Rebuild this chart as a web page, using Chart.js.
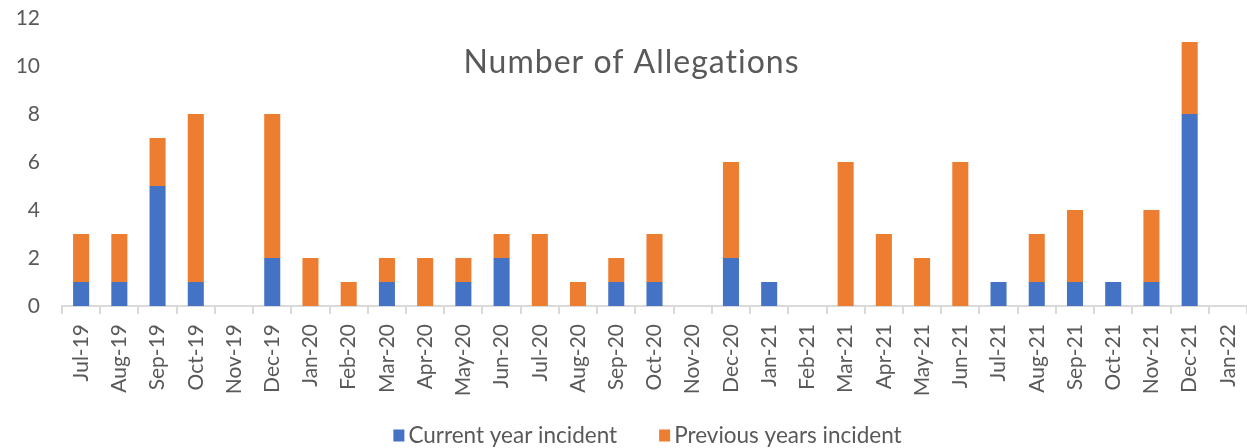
<!DOCTYPE html>
<html>
<head>
<meta charset="utf-8">
<script src="https://cdn.jsdelivr.net/npm/chart.js@4"></script>
<style>
  html, body { margin: 0; padding: 0; background: #fff; }
  #wrap { width: 1247px; height: 448px; }
</style>
</head>
<body>
<div id="wrap"><canvas id="allegationsChart"></canvas></div>
<script>
const months = ["Jul-19", "Aug-19", "Sep-19", "Oct-19", "Nov-19", "Dec-19", "Jan-20", "Feb-20", "Mar-20", "Apr-20",
  "May-20", "Jun-20", "Jul-20", "Aug-20", "Sep-20", "Oct-20", "Nov-20", "Dec-20", "Jan-21", "Feb-21",
  "Mar-21", "Apr-21", "May-21", "Jun-21", "Jul-21", "Aug-21", "Sep-21", "Oct-21", "Nov-21", "Dec-21", "Jan-22"];
const currentYear = [1, 1, 5, 1, 0, 2, 0, 0, 1, 0, 1, 2, 0, 0, 1, 1, 0, 2, 1, 0, 0, 0, 0, 0, 1, 1, 1, 1, 1, 8, 0];
const previousYears = [2, 2, 2, 7, 0, 6, 2, 1, 1, 2, 1, 1, 3, 1, 1, 2, 0, 4, 0, 0, 6, 3, 2, 6, 0, 2, 3, 0, 3, 3, 0];
const chartTitle = "Number of Allegations";

const textColor = "#595959";
const fontFamily = "Lato, 'Open Sans', sans-serif";

// title sits inside the plot, like the Excel original
const overlayTitle = {
  id: "overlayTitle",
  afterDraw(chart) {
    const ctx = chart.ctx;
    ctx.save();
    ctx.font = `32px ${fontFamily}`;
    ctx.letterSpacing = "1px";
    ctx.fillStyle = textColor;
    ctx.textAlign = "center";
    ctx.textBaseline = "alphabetic";
    ctx.fillText(chartTitle, chart.width / 2 + 8, 73);
    ctx.restore();
  }
};

// built-in legend can't give Excel's wide gap between entries without also
// eating vertical room, so draw it from the datasets here
const bottomLegend = {
  id: "bottomLegend",
  afterDraw(chart) {
    const ctx = chart.ctx;
    const items = chart.data.datasets.map((ds) => ({ text: ds.label, color: ds.backgroundColor }));
    const box = 11, boxGap = 4, itemGap = 42;
    ctx.save();
    ctx.font = `22.5px ${fontFamily}`;
    const widths = items.map((it) => box + boxGap + ctx.measureText(it.text).width);
    const total = widths.reduce((a, b) => a + b, 0) + itemGap * (items.length - 1);
    let x = chart.width / 2 + 24 - total / 2;
    const y = 435;
    ctx.textBaseline = "middle";
    ctx.textAlign = "left";
    items.forEach((it, i) => {
      ctx.fillStyle = it.color;
      ctx.fillRect(x, y - box / 2, box, box + 1);
      ctx.fillStyle = textColor;
      ctx.fillText(it.text, x + box + boxGap, y + 1);
      x += widths[i] + itemGap;
    });
    ctx.restore();
  }
};

new Chart(document.getElementById("allegationsChart"), {
  type: "bar",
  data: {
    labels: months,
    datasets: [
      { label: "Current year incident", data: currentYear, backgroundColor: "#4472C4", barPercentage: 0.42, categoryPercentage: 1 },
      { label: "Previous years incident", data: previousYears, backgroundColor: "#ED7D31", barPercentage: 0.42, categoryPercentage: 1 }
    ]
  },
  options: {
    responsive: true,
    maintainAspectRatio: false,
    animation: false,
    layout: { padding: { top: 18, right: 0, left: 0, bottom: 30 } },
    plugins: {
      legend: { display: false },
      tooltip: { enabled: false }
    },
    scales: {
      x: {
        stacked: true,
        grid: { display: true, offset: true, drawOnChartArea: false, color: "#d9d9d9", tickLength: 8, lineWidth: 2 },
        border: { color: "#d9d9d9", width: 2 },
        ticks: { color: textColor, font: { family: fontFamily, size: 21 }, minRotation: 90, maxRotation: 90, autoSkip: false, padding: 10 },
        afterFit(scale) {
          scale.height = 112;
          scale.paddingRight = 0;
          scale.paddingLeft = 0;
        }
      },
      y: {
        stacked: true,
        min: 0,
        max: 12,
        grid: { display: false },
        border: { display: false },
        ticks: { stepSize: 2, color: textColor, font: { family: fontFamily, size: 21 }, padding: 14 },
        afterFit(scale) {
          scale.width = 62;
          scale.paddingTop = 0;
          scale.paddingBottom = 0;
        }
      }
    }
  },
  plugins: [overlayTitle, bottomLegend]
});
</script>
</body>
</html>
